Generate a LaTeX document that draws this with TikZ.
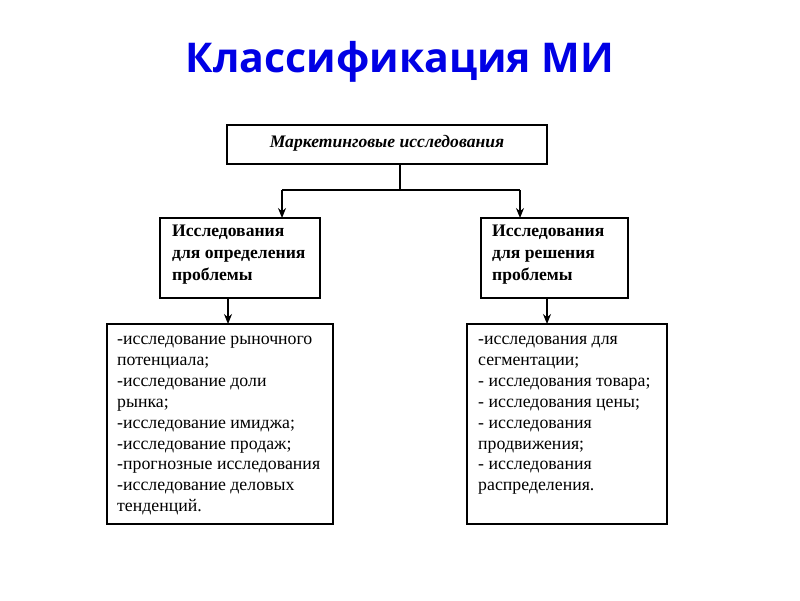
\documentclass[tikz,border=0pt]{standalone}
\usepackage{fontspec}
\setmainfont{Liberation Serif}
\newfontfamily\titlefont{Open Sans}
\usetikzlibrary{arrows.meta}
\begin{document}
\begin{tikzpicture}[x=1pt,y=-1pt,
  box/.style={draw,line width=1.3pt},
  txt/.style={anchor=north west,align=left,inner sep=0pt,font=\fontsize{17.8}{20.9}\selectfont},
  arr/.style={-{Stealth[length=10pt,width=8pt]},line width=1.3pt}]
\useasboundingbox (0,0) rectangle (800,600);
\node[font=\titlefont\bfseries\fontsize{41}{48}\selectfont,text=blue!90!black] (title) at (400,62) {Классификация МИ};
\draw[box] (227,125) rectangle (547,164);
\node[font=\fontsize{17.6}{20}\selectfont\bfseries\itshape] (top) at (387,143) {Маркетинговые исследования};
\draw[box] (160,218) rectangle (320,298);
\node[txt,font=\fontsize{17.6}{22}\selectfont\bfseries] (l) at (172,225) {Исследования\\для определения\\проблемы};
\draw[box] (481,218) rectangle (628,298);
\node[txt,font=\fontsize{17.6}{22}\selectfont\bfseries] (r) at (492,225) {Исследования\\для решения\\проблемы};
\draw[box] (107,324) rectangle (333,524);
\node[txt] (lb) at (117,336) {-исследование рыночного\\потенциала;\\-исследование доли\\рынка;\\-исследование имиджа;\\-исследование продаж;\\-прогнозные исследования\\-исследование деловых\\тенденций.};
\draw[box] (467,324) rectangle (667,524);
\node[txt] (rb) at (478,336) {-исследования для\\сегментации;\\- исследования товара;\\- исследования цены;\\- исследования\\продвижения;\\- исследования\\распределения.};
\coordinate (a) at (400,164); \coordinate (b) at (400,190);
\coordinate (bl) at (282,190); \coordinate (br) at (520,190);
\draw[line width=1.3pt] (a) -- (b) (bl) -- (br);
\draw[arr] (bl) -- (282,218);
\draw[arr] (br) -- (520,218);
\draw[arr] (228,298) -- (228,324);
\draw[arr] (547,298) -- (547,324);
\end{tikzpicture}
\end{document}
